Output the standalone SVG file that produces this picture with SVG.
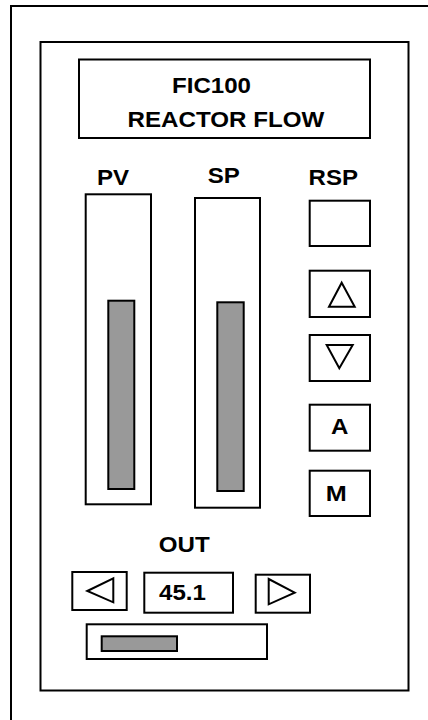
<svg xmlns="http://www.w3.org/2000/svg" width="428" height="720" viewBox="0 0 428 720">
<style>
.box{fill:#fff;stroke:#000;stroke-width:2}
.bar{fill:#999;stroke:#000;stroke-width:2}
.tri{fill:none;stroke:#000;stroke-width:2;stroke-linejoin:miter}
.t{font-family:"Liberation Sans",Arial,sans-serif;font-weight:bold;font-size:21.5px;fill:#000}
</style>
<rect width="428" height="720" fill="#fff"/>
<g id="outer-border"><rect class="box" x="11" y="6" width="440" height="740"/></g>
<g id="panel"><rect class="box" x="40.5" y="42" width="368" height="648.5"/></g>
<g id="title">
<rect class="box" x="79" y="59.5" width="291" height="78.5"/>
<text class="t" x="172" y="92.7" textLength="79" lengthAdjust="spacingAndGlyphs">FIC100</text>
<text class="t" x="127.5" y="126.7" textLength="196.8" lengthAdjust="spacingAndGlyphs">REACTOR FLOW</text>
</g>
<g id="pv">
<text class="t" x="97" y="185.3" textLength="32.1" lengthAdjust="spacingAndGlyphs">PV</text>
<rect class="box" x="85.7" y="194.3" width="65.3" height="310"/>
<rect class="bar" x="108.3" y="300.7" width="26" height="188.3"/>
</g>
<g id="sp">
<text class="t" x="207.8" y="182.7" textLength="32.1" lengthAdjust="spacingAndGlyphs">SP</text>
<rect class="box" x="195" y="198" width="65" height="309.7"/>
<rect class="bar" x="217.3" y="302.3" width="26.4" height="188.7"/>
</g>
<g id="rsp">
<text class="t" x="308.5" y="185.3" textLength="49.5" lengthAdjust="spacingAndGlyphs">RSP</text>
<rect class="box" x="309.7" y="200.7" width="60.3" height="45.3"/>
</g>
<g id="btn-up">
<rect class="box" x="309.7" y="270.7" width="60.3" height="46.3"/>
<polygon class="tri" points="341.7,282.7 354.7,306.7 329,306.7"/>
</g>
<g id="btn-down">
<rect class="box" x="309.7" y="335" width="60.3" height="46"/>
<polygon class="tri" points="326.7,345 352.7,345 339.3,368.3"/>
</g>
<g id="btn-a">
<rect class="box" x="309.7" y="404.7" width="60.3" height="46"/>
<text class="t" x="331" y="433.5" textLength="17.4" lengthAdjust="spacingAndGlyphs">A</text>
</g>
<g id="btn-m">
<rect class="box" x="309.7" y="470.7" width="60.3" height="45.3"/>
<text class="t" x="325.8" y="500.5" textLength="21" lengthAdjust="spacingAndGlyphs">M</text>
</g>
<g id="out">
<text class="t" x="158.8" y="551.7" textLength="50.9" lengthAdjust="spacingAndGlyphs">OUT</text>
</g>
<g id="btn-left">
<rect class="box" x="72.3" y="572" width="54.4" height="38"/>
<polygon class="tri" points="87.3,591 113.3,578.3 113.3,602.3"/>
</g>
<g id="out-value">
<rect class="box" x="144.3" y="572.7" width="88.7" height="40"/>
<text class="t" x="159" y="600" textLength="46.9" lengthAdjust="spacingAndGlyphs">45.1</text>
</g>
<g id="btn-right">
<rect class="box" x="255.7" y="574.7" width="54.3" height="38"/>
<polygon class="tri" points="268.7,579 294.7,592.7 268.7,604.3"/>
</g>
<g id="out-slider">
<rect class="box" x="86.7" y="624.3" width="180.3" height="34.7"/>
<rect class="bar" x="101.7" y="636.3" width="75.3" height="14.7"/>
</g>
<g id="connectors"></g>
</svg>
